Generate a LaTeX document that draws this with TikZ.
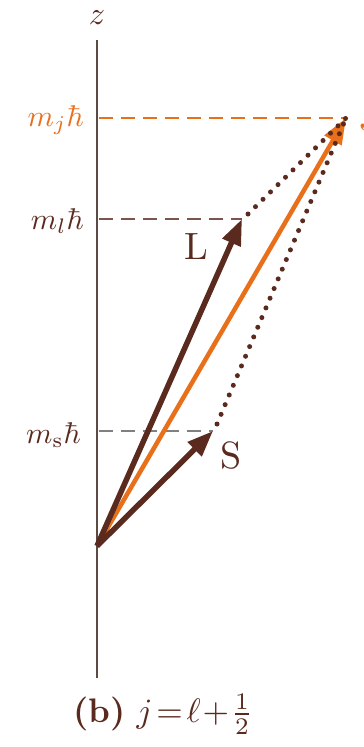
\documentclass[tikz,border=0pt]{standalone}
\usepackage{graphicx}
\usetikzlibrary{arrows.meta}
\definecolor{vbrown}{HTML}{5A2A1E}
\definecolor{vorange}{HTML}{E8701A}
\definecolor{axisc}{HTML}{5E4A44}
\newcommand{\bigtxt}[2]{\scalebox{#1}{#2}}
\begin{document}
\begin{tikzpicture}[x=1pt,y=-1pt,
  lbl/.style={inner sep=0pt},
  vec/.style={line width=5.5pt, -{Triangle[length=26pt,width=19pt]}, shorten >=0pt},
  dotline/.style={vbrown, line width=5pt, line cap=round, dash pattern=on 0pt off 10.5pt},
  guide/.style={line width=1.4pt, dash pattern=on 14pt off 8pt}]
\useasboundingbox (0,0) rectangle (364,747);
\fill[white] (0,0) rectangle (364,747);
% points
\coordinate (ztop) at (97,40);
\coordinate (zbot) at (97,678);
\coordinate (O) at (97,546);
\coordinate (Jtip) at (346,118);
\coordinate (Ltip) at (242,219);
\coordinate (Stip) at (213,431);
\coordinate (jax) at (99,118);
\coordinate (lax) at (99,219);
\coordinate (sax) at (99,431);
% axis
\draw[axisc, line width=1.6pt] (ztop) -- (zbot);
\node[lbl, vbrown] (z) at (97,18) {\bigtxt{3.2}{$z$}};
% guides
\draw[guide, vorange] (jax) -- (Jtip);
\draw[guide, vbrown!80] (lax) -- (Ltip);
\draw[guide, gray] (sax) -- (Stip);
\node[lbl, vorange, anchor=east] (mj) at (84,120) {\bigtxt{3.0}{$m_j\hbar$}};
\node[lbl, vbrown, anchor=east] (ml) at (84,221) {\bigtxt{3.0}{$m_l\hbar$}};
\node[lbl, vbrown, anchor=east] (ms) at (81,435) {\bigtxt{3.0}{$m_{\mathrm{s}}\hbar$}};
% vectors
\draw[vec, vorange, line width=4.5pt] (O) -- (Jtip);
\draw[vec, vbrown] (O) -- (Ltip);
\draw[vec, vbrown] (O) -- (Stip);
% dotted completion
\draw[dotline] (Ltip) ++(6,-5) -- (Jtip);
\draw[dotline] (Stip) ++(4,-7) -- (Jtip);
% labels
\node[lbl, vbrown] (L) at (196,247) {\bigtxt{3.8}{L}};
\node[lbl, vbrown] (S) at (231,456) {\bigtxt{3.8}{S}};
\node[lbl, vorange, anchor=west] (J) at (359,118) {\bigtxt{3.8}{J}};
% caption
\node[lbl, vbrown] (cap) at (163,714) {\bigtxt{3.4}{\textbf{(b)} $j\!=\!\ell\!+\!\frac{1}{2}$}};
\end{tikzpicture}
\end{document}
